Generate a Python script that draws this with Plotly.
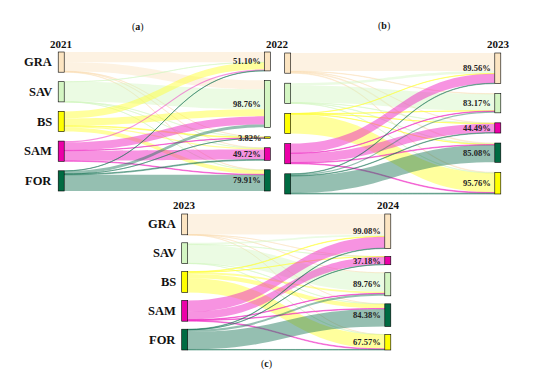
import plotly.graph_objects as go

# ---------------- data ----------------
classes = ["GRA", "SAV", "BS", "SAM", "FOR"]
years = ["2021", "2022", "2023", "2024"]
panel_tags = ["a", "b", "c"]

# transition percentages: rows = source class, cols = target class (class order)
flows_a = [
    [51.10, 44.00, 1.00, 2.00, 1.90],
    [0.50, 98.76, 0.20, 0.30, 0.24],
    [35.00, 35.00, 3.82, 6.00, 20.18],
    [6.00, 40.00, 1.50, 49.72, 2.78],
    [1.00, 14.59, 0.50, 4.00, 79.91],
]
flows_b = [
    [89.56, 2.00, 2.94, 1.50, 4.00],
    [12.00, 83.17, 1.33, 1.50, 2.00],
    [1.00, 1.00, 95.76, 1.00, 1.24],
    [47.00, 2.00, 3.51, 44.49, 3.00],
    [2.00, 7.00, 3.92, 2.00, 85.08],
]
flows_c = [
    [99.08, 0.30, 0.22, 0.20, 0.20],
    [8.00, 89.76, 0.74, 0.50, 1.00],
    [2.00, 9.00, 67.57, 0.50, 20.93],
    [55.00, 2.00, 3.32, 37.18, 2.50],
    [2.00, 10.00, 2.62, 1.00, 84.38],
]
# vertical order of the target nodes in each panel
right_order_a = ["GRA", "SAV", "BS", "SAM", "FOR"]
right_order_b = ["GRA", "SAV", "SAM", "FOR", "BS"]
right_order_c = ["GRA", "SAM", "SAV", "FOR", "BS"]

# ---------------- styles ----------------
node_colors = ["#FCE5C2", "#D4F6C3", "#FFFF00", "#EC00A8", "#006B42"]
node_border = ["#E9C68E", "#AEDC98", "#D9D900", "#C7008C", "#004F30"]
link_colors = [
    "rgba(250,222,180,0.38)",
    "rgba(210,247,192,0.45)",
    "rgba(255,255,60,0.50)",
    "rgba(240,40,195,0.50)",
    "rgba(25,115,85,0.46)",
]
FW, FH = 538, 379
SERIF = "Liberation Serif"

panels = [
    dict(flows=flows_a, order=right_order_a, x0=61, x1=267.5, y0=52, y1=191, pad=9.5,
         left_labels=True),
    dict(flows=flows_b, order=right_order_b, x0=287.5, x1=498, y0=53, y1=194, pad=10,
         left_labels=False),
    dict(flows=flows_c, order=right_order_c, x0=184.5, x1=388, y0=214, y1=350, pad=8,
         left_labels=True),
]

fig = go.Figure()
annotations = []


def px_x(v):
    return v / FW


def px_y(v):
    return 1 - v / FH


for p in panels:
    flows = p["flows"]
    W = p["x1"] - p["x0"]
    H = p["y1"] - p["y0"]
    pad = p["pad"]
    n = len(classes)
    left_tot = [sum(row) for row in flows]
    right_tot = [sum(flows[i][j] for i in range(n)) for j in range(n)]
    ky = min((H - (n - 1) * pad) / sum(left_tot), (H - (n - 1) * pad) / sum(right_tot))

    # left centres (class order)
    left_c = []
    y = 0.0
    for t in left_tot:
        h = ky * t
        left_c.append(y + h / 2)
        y += h + pad
    # right centres (panel order)
    right_c = [0.0] * n
    y = 0.0
    for name in p["order"]:
        j = classes.index(name)
        h = ky * right_tot[j]
        right_c[j] = y + h / 2
        y += h + pad

    node_x = [0.001] * n + [0.999] * n
    node_y = [max(c / H, 0.001) for c in left_c] + [max(c / H, 0.001) for c in right_c]

    src, tgt, val, col = [], [], [], []
    for i in range(n):
        for j in range(n):
            src.append(i)
            tgt.append(n + j)
            val.append(flows[i][j])
            col.append(link_colors[i])

    fig.add_trace(go.Sankey(
        arrangement="fixed",
        domain=dict(x=[px_x(p["x0"]), px_x(p["x1"])], y=[px_y(p["y1"]), px_y(p["y0"])]),
        node=dict(
            pad=pad, thickness=6,
            label=[""] * (2 * n),
            color=node_colors * 2,
            line=dict(color=node_border * 2, width=0.6),
            x=node_x, y=node_y,
        ),
        link=dict(source=src, target=tgt, value=val, color=col),
        hoverinfo="none",
    ))

    # class labels on the left
    if p["left_labels"]:
        for i, name in enumerate(classes):
            annotations.append(dict(
                x=px_x(p["x0"] - 7), y=px_y(p["y0"] + left_c[i]),
                xref="paper", yref="paper", xanchor="right", yanchor="middle",
                text=f"<b>{name}</b>", showarrow=False,
                font=dict(family=SERIF, size=12.5, color="#111"),
            ))
    # retention percentages next to right nodes
    for j in range(n):
        annotations.append(dict(
            x=px_x(p["x1"] - 5), y=px_y(p["y0"] + right_c[j]),
            xref="paper", yref="paper", xanchor="right", yanchor="middle",
            text=f"<b>{flows[j][j]:.2f}%</b>", showarrow=False,
            font=dict(family=SERIF, size=8.5, color="#222"),
        ))

# year labels
pa, pb, pc = panels
year_pos = [
    (pa["x0"], pa["y0"] - 8),
    ((pa["x1"] + pb["x0"]) / 2, pa["y0"] - 8),
    (pb["x1"], pb["y0"] - 9),
]
for yr, (x, y) in zip(years[:3], year_pos):
    annotations.append(dict(x=px_x(x), y=px_y(y), xref="paper", yref="paper",
                            xanchor="center", yanchor="middle", text=f"<b>{yr}</b>",
                            showarrow=False, font=dict(family=SERIF, size=11, color="#111")))
for yr, x in zip(years[2:], [pc["x0"], pc["x1"]]):
    annotations.append(dict(x=px_x(x), y=px_y(pc["y0"] - 9), xref="paper", yref="paper",
                            xanchor="center", yanchor="middle", text=f"<b>{yr}</b>",
                            showarrow=False, font=dict(family=SERIF, size=11, color="#111")))

# panel tags
tag_pos = [(138, 27), (384, 26), (266, 364)]
for tag, (x, y) in zip(panel_tags, tag_pos):
    annotations.append(dict(x=px_x(x), y=px_y(y), xref="paper", yref="paper",
                            xanchor="center", yanchor="middle", text=f"(<b>{tag}</b>)",
                            showarrow=False, font=dict(family=SERIF, size=10, color="#111")))

fig.update_layout(
    width=FW, height=FH,
    margin=dict(l=0, r=0, t=0, b=0),
    paper_bgcolor="white", plot_bgcolor="white",
    annotations=annotations,
    showlegend=False,
)
fig.write_html("out.html", config={"displayModeBar": False},
               post_script="document.body.style.margin='0';document.body.style.padding='0';")
